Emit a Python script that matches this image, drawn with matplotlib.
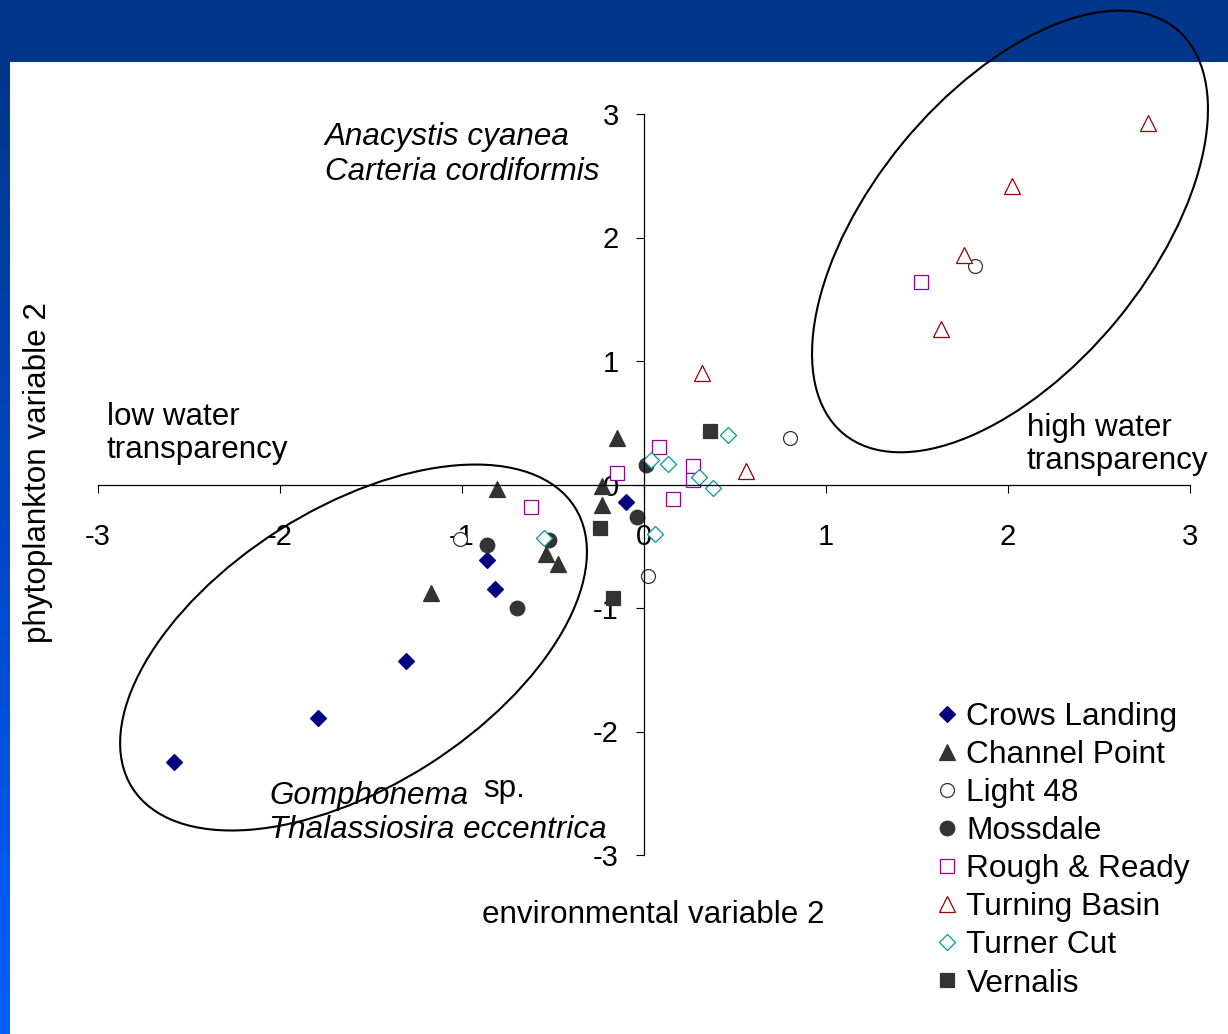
"""plot.py — site scores on environmental vs phytoplankton axis 2 -> out.png"""
import matplotlib
matplotlib.use("Agg")
import matplotlib.pyplot as plt
import numpy as np
from matplotlib.patches import Ellipse, Rectangle
from matplotlib.transforms import ScaledTranslation

# site scores: (environmental variable 2, phytoplankton variable 2)
crows_x = [-2.58, -1.79, -1.31, -0.82, -0.86, -0.10]
crows_y = [-2.25, -1.89, -1.43, -0.85, -0.61, -0.14]
channel_x = [-0.81, -0.15, -0.23, -0.23, -0.54, -0.47, -1.17]
channel_y = [-0.04, 0.38, -0.01, -0.17, -0.56, -0.64, -0.88]
light_x = [-1.01, 0.02, 0.80, 1.82]
light_y = [-0.44, -0.74, 0.38, 1.77]
moss_x = [-0.86, -0.52, -0.70, 0.01, -0.04]
moss_y = [-0.49, -0.45, -1.00, 0.16, -0.26]
rough_x = [-0.62, -0.15, 0.08, 0.16, 0.27, 0.27, 1.52]
rough_y = [-0.18, 0.09, 0.30, -0.12, 0.15, 0.04, 1.64]
turning_x = [0.56, 0.32, 2.77, 2.02, 1.76, 1.63]
turning_y = [0.11, 0.90, 2.93, 2.42, 1.86, 1.26]
turner_x = [0.46, 0.04, 0.13, 0.30, 0.38, 0.06, -0.55]
turner_y = [0.40, 0.20, 0.17, 0.06, -0.03, -0.40, -0.43]
vern_x = [0.36, -0.24, -0.17]
vern_y = [0.43, -0.35, -0.92]

ticks = [-3, -2, -1, 0, 1, 2, 3]

plt.rcParams["font.family"] = ["Liberation Sans", "DejaVu Sans"]
plt.rcParams["axes.unicode_minus"] = False

W, H = 1228, 1034
fig = plt.figure(figsize=(W / 100, H / 100), dpi=100)

# slide background: dark blue title bar + gradient stripe on the left
bg = fig.add_axes([0, 0, 1, 1], zorder=-1)
bg.set_xlim(0, W)
bg.set_ylim(H, 0)
bg.axis("off")
bg.add_patch(Rectangle((0, 0), W, 62, color="#00378a", lw=0))
grad = np.linspace(0, 1, 256).reshape(-1, 1)
cmap = matplotlib.colors.LinearSegmentedColormap.from_list("bar", ["#00378a", "#0048c8", "#0060ff"])
bg.imshow(grad, cmap=cmap, extent=(0, 10, H, 62), aspect="auto")

ax = fig.add_axes([98 / W, 1 - 855 / H, (1190 - 98) / W, (855 - 114) / H])
ax.set_facecolor("none")

style = [
    (crows_x, crows_y, "D", 8.2, "#000080", "#000080", "Crows Landing"),
    (channel_x, channel_y, "^", 11.5, "#333333", "#333333", "Channel Point"),
    (light_x, light_y, "o", 10.0, "white", "#333333", "Light 48"),
    (moss_x, moss_y, "o", 10.5, "#333333", "#333333", "Mossdale"),
    (rough_x, rough_y, "s", 10.5, "white", "#990099", "Rough & Ready"),
    (turning_x, turning_y, "^", 11.5, "white", "#990000", "Turning Basin"),
    (turner_x, turner_y, "D", 8.2, "white", "#009999", "Turner Cut"),
    (vern_x, vern_y, "s", 10.5, "#333333", "#333333", "Vernalis"),
]
for xs, ys, m, ms, fc, ec, label in style:
    ax.plot(xs, ys, ls="none", marker=m, ms=ms, mfc=fc, mec=ec, mew=0.9,
            label=label, clip_on=False)

ax.set_xlim(-3, 3)
ax.set_ylim(-3, 3)
ax.spines["left"].set_position(("data", 0))
ax.spines["bottom"].set_position(("data", 0))
ax.spines["right"].set_visible(False)
ax.spines["top"].set_visible(False)
for s in ("left", "bottom"):
    ax.spines[s].set_linewidth(0.9)
ax.set_xticks(ticks)
ax.set_yticks(ticks)
ax.tick_params(axis="x", direction="out", length=6, width=0.8, pad=22, labelsize=21)
ax.tick_params(axis="y", direction="out", length=6, width=0.8, pad=12, labelsize=21)

# the two groups circled on the slide (size and tilt in screen pixels)
for (cx, cy), a, b, ang in [((2.011, 2.049), 262, 139, 50.6),
                            ((-1.596, -1.320), 262, 139, 32.4)]:
    tr = fig.dpi_scale_trans + ScaledTranslation(cx, cy, ax.transData)
    ax.add_patch(Ellipse((0, 0), 2 * a / 100, 2 * b / 100, angle=ang, fill=False,
                         ec="black", lw=1.5, transform=tr, clip_on=False))

fs = 22.6
ax.text(-1.753, 2.81, "Anacystis cyanea", style="italic", fontsize=fs, va="center")
ax.text(-1.753, 2.527, "Carteria cordiformis", style="italic", fontsize=fs, va="center")
ax.text(-2.951, 0.55, "low water", fontsize=fs, va="center")
ax.text(-2.951, 0.278, "transparency", fontsize=fs, va="center")
ax.text(2.104, 0.455, "high water", fontsize=fs, va="center")
ax.text(2.104, 0.187, "transparency", fontsize=fs, va="center")
ax.text(-2.06, -2.525, "Gomphonema", style="italic", fontsize=fs, va="center")
ax.text(-0.885, -2.465, "sp.", fontsize=fs, va="center")
ax.text(-2.06, -2.80, "Thalassiosira eccentrica", style="italic", fontsize=fs, va="center")

fig.text(653 / W, 1 - 915 / H, "environmental variable 2", fontsize=fs,
         ha="center", va="center")
fig.text(38 / W, 1 - 473 / H, "phytoplankton variable 2", fontsize=fs,
         ha="center", va="center", rotation=90)

ax.legend(loc="upper left", bbox_to_anchor=(937 / W, 1 - 702 / H),
          bbox_transform=fig.transFigure, frameon=False, fontsize=22.8,
          handlelength=0.6, handletextpad=0.33, labelspacing=0.255,
          borderpad=0, borderaxespad=0, numpoints=1)

fig.savefig("out.png", dpi=100)
